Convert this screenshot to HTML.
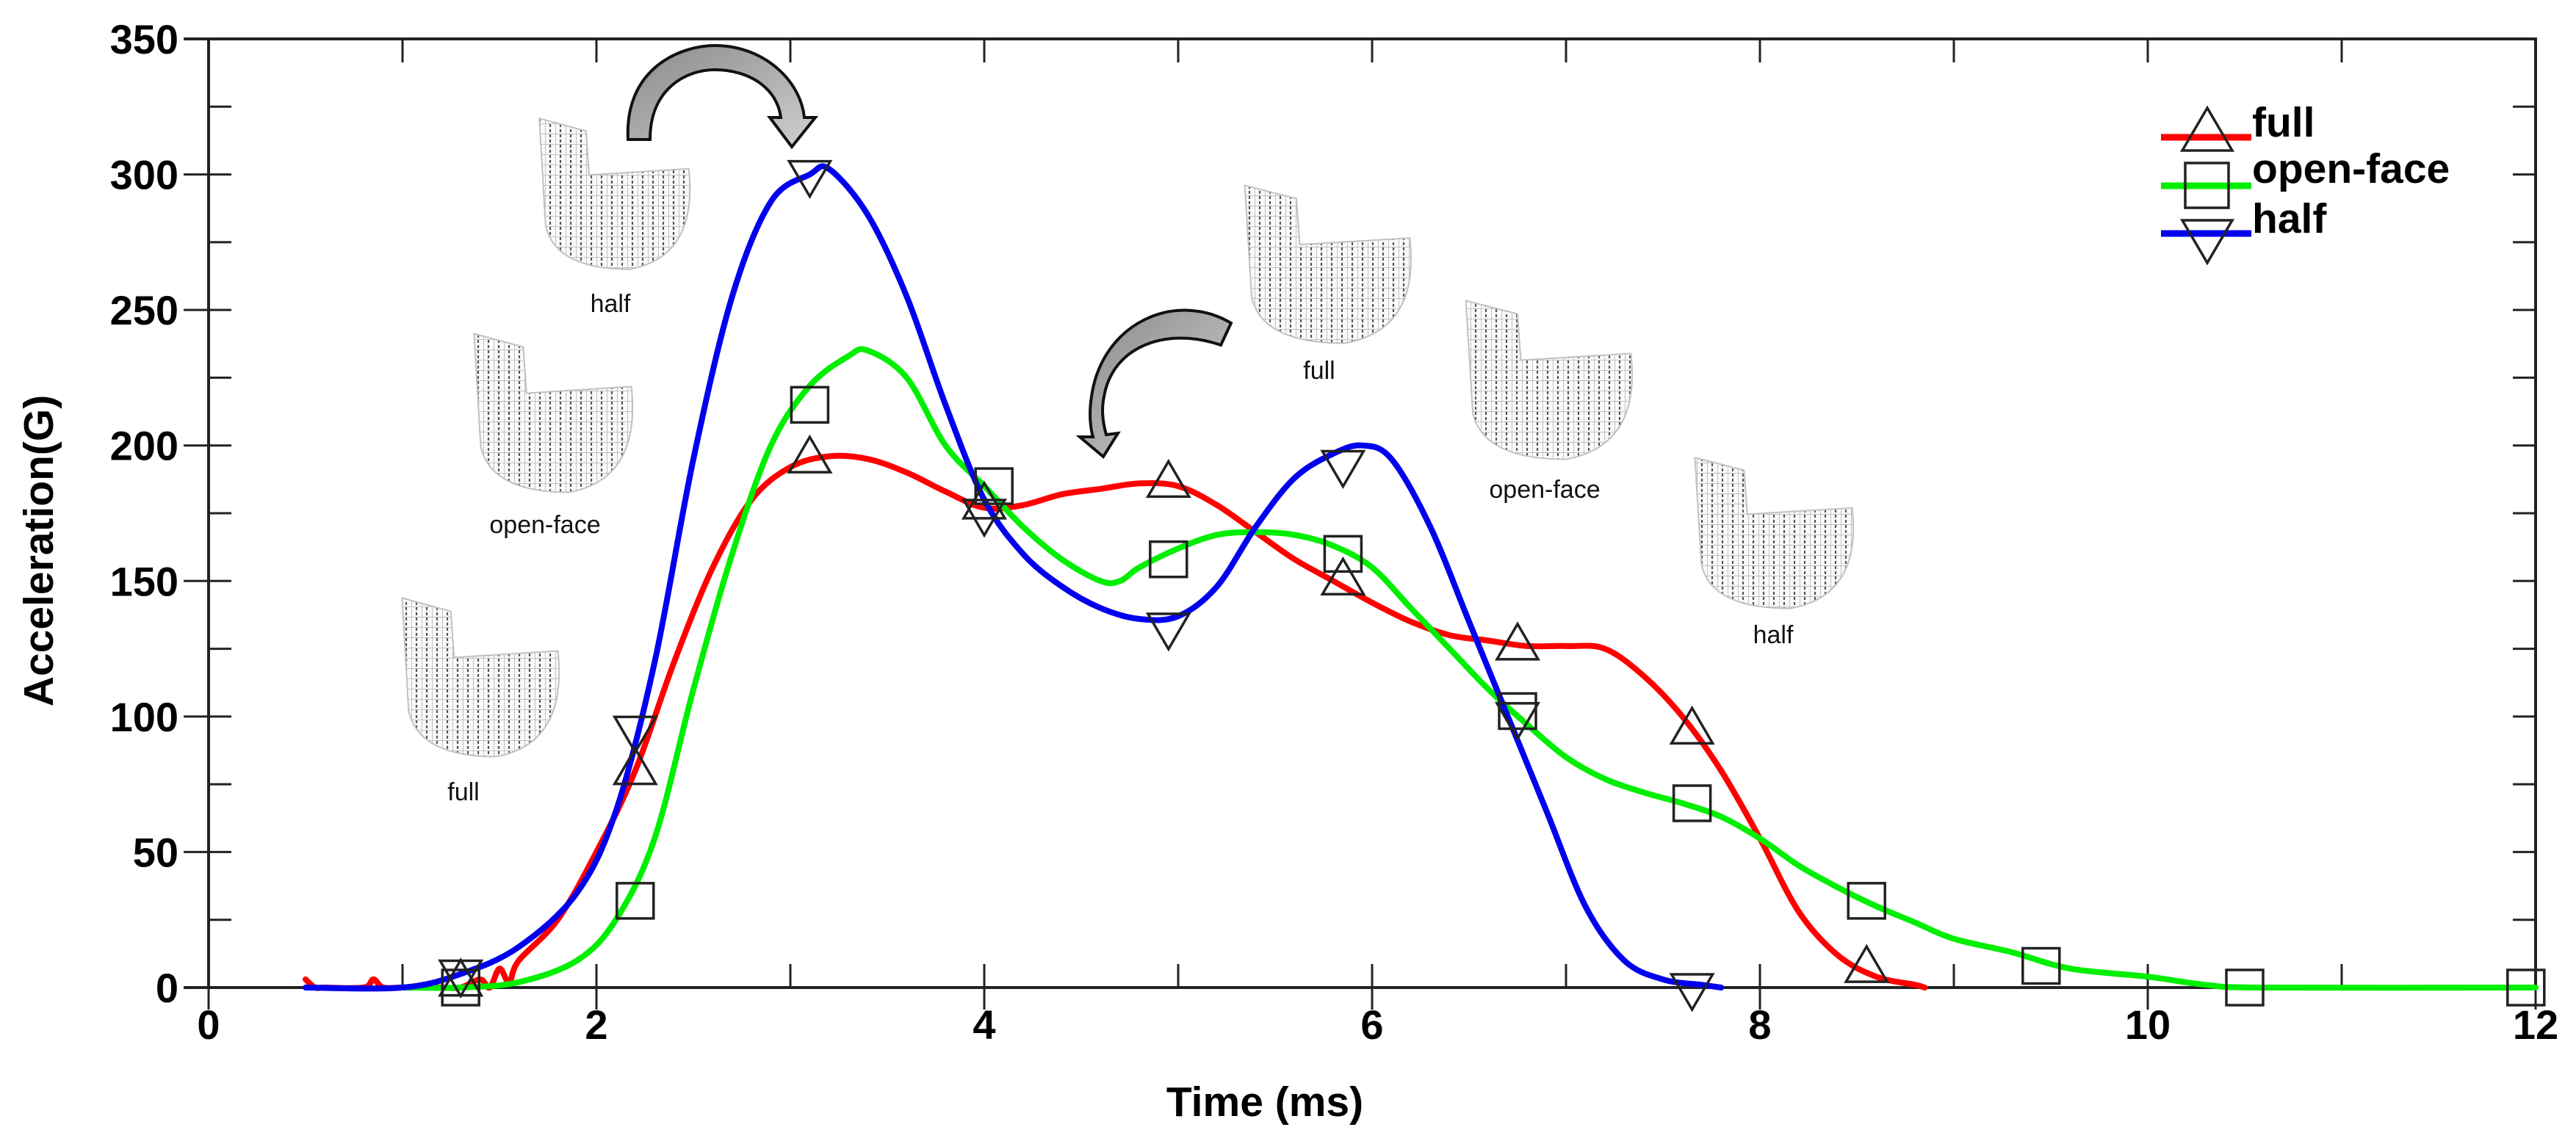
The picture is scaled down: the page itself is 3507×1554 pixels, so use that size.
<!DOCTYPE html>
<html><head><meta charset="utf-8"><title>Acceleration vs Time</title>
<style>html,body{margin:0;padding:0;background:#fff}svg{display:block}</style></head>
<body>
<svg id="chart" xmlns="http://www.w3.org/2000/svg" width="3507" height="1554" viewBox="0 0 3507 1554" font-family="Liberation Sans, Arial, sans-serif">
<defs>
  <pattern id="mesh" width="14" height="14" patternUnits="userSpaceOnUse">
    <rect width="14" height="14" fill="#fafafa"/>
    <path d="M0 0H14M0 0V14" stroke="#a8a8a8" stroke-width="1.5"/>
    <path d="M7 1V13" stroke="#444" stroke-width="2.2" stroke-dasharray="4 3"/>
  </pattern>
  <linearGradient id="arrowGrad" x1="0" y1="0" x2="1" y2="1">
    <stop offset="0" stop-color="#8a8a8a"/><stop offset="1" stop-color="#d0d0d0"/>
  </linearGradient>
</defs>
<g id="helmets"></g>
<g id="arrows">
  <path d="M855 190 C850 90 930 62 973 62 C1040 62 1090 110 1095 160 L1110 160 L1078 200 L1048 160 L1063 160 C1058 120 1020 95 973 95 C935 95 885 120 885 190 Z" fill="url(#arrowGrad)" stroke="#111" stroke-width="4"/>
  <path d="M1676 440 C1600 395 1500 440 1486 540 C1482 565 1485 585 1488 595 L1470 595 L1502 622 L1522 590 L1506 592 C1500 570 1500 555 1503 540 C1515 470 1590 445 1662 470 Z" fill="url(#arrowGrad)" stroke="#111" stroke-width="4"/>
</g>
<g id="axes"></g>
<g id="series"></g>
<g id="markers"></g>
<g id="legend">
  <g>
    <line x1="2942" y1="187" x2="3065" y2="187" stroke="#ff0000" stroke-width="9"/>
    <polygon points="3005,147 2971,205 3039,205" fill="none" stroke="#222" stroke-width="3.5"/>
    <text x="3066" y="186" font-size="57" font-weight="bold">full</text>
  </g>
  <g>
    <line x1="2942" y1="253" x2="3065" y2="253" stroke="#00ee00" stroke-width="9"/>
    <rect x="2975" y="222" width="59" height="61" fill="none" stroke="#222" stroke-width="3.5"/>
    <text x="3066" y="249" font-size="57" font-weight="bold">open-face</text>
  </g>
  <g>
    <line x1="2942" y1="318" x2="3065" y2="318" stroke="#0000ee" stroke-width="9"/>
    <polygon points="2971,300 3039,300 3005,358" fill="none" stroke="#222" stroke-width="3.5"/>
    <text x="3066" y="317" font-size="57" font-weight="bold">half</text>
  </g>
</g>
<text x="1722" y="1520" font-size="57" font-weight="bold" text-anchor="middle">Time (ms)</text>
<text transform="translate(72,750) rotate(-90)" font-size="57" font-weight="bold" text-anchor="middle">Acceleration(G)</text>
</svg>
<script>
const xTicks = [0, 2, 4, 6, 8, 10, 12];
const yTicks = [0, 50, 100, 150, 200, 250, 300, 350];
const fullT = [0.5,0.55,0.6,0.8,0.85,0.9,1.0,1.2,1.3,1.4,1.45,1.5,1.55,1.6,1.8,2.0,2.2,2.4,2.6,2.8,3.0,3.2,3.4,3.6,3.8,4.0,4.2,4.4,4.6,4.8,5.0,5.2,5.4,5.6,5.8,6.0,6.2,6.4,6.6,6.8,7.0,7.2,7.4,7.6,7.8,8.0,8.2,8.4,8.6,8.8,8.85];
const fullG = [3,0,0,0,3,0,0,0,0,3,0,7,2,10,25,50,80,120,155,180,192,196,195,190,183,177,178,182,184,186,185,178,168,158,150,142,135,130,128,126,126,125,115,100,80,55,28,12,4,1,0];
const openT = [1.0,1.3,1.6,1.9,2.1,2.3,2.5,2.7,2.9,3.1,3.3,3.4,3.6,3.8,4.0,4.2,4.4,4.6,4.7,4.8,5.0,5.2,5.4,5.6,5.8,6.0,6.2,6.4,6.6,6.8,7.0,7.2,7.4,7.6,7.8,8.0,8.2,8.4,8.6,8.8,9.0,9.3,9.6,10.0,10.3,10.6,12.0];
const openG = [0,0,2,10,25,55,110,160,200,222,233,235,225,200,185,170,158,150,150,155,162,167,168,167,163,155,140,125,110,97,85,77,72,68,63,55,45,37,30,24,18,13,7,4,1,0,0];
const halfT = [0.5,1.0,1.3,1.6,1.9,2.1,2.3,2.5,2.7,2.9,3.1,3.2,3.4,3.6,3.8,4.0,4.2,4.4,4.6,4.8,5.0,5.2,5.4,5.6,5.8,5.95,6.1,6.3,6.5,6.7,6.9,7.1,7.3,7.5,7.7,7.8];
const halfG = [0,0,5,15,35,65,120,195,255,290,300,302,285,255,215,180,160,148,140,136,137,148,170,188,197,200,195,170,135,100,65,30,10,3,1,0];
const fullMarkT = [1.3,2.2,3.1,4.0,4.95,5.85,6.75,7.65,8.55];
const fullMarkG = [2,80,195,178,186,150,126,95,7];
const openMarkT = [1.3,2.2,3.1,4.05,4.95,5.85,6.75,7.65,8.55,9.45,10.5,11.95];
const openMarkG = [0,32,215,185,158,160,102,68,32,8,0,0];
const halfMarkT = [1.3,2.2,3.1,4.0,4.95,5.85,6.75,7.65];
const halfMarkG = [5,95,300,175,133,193,100,0];

const X0 = 284, X1 = 3452, Y0 = 1345, Y1 = 53;
function xs(t){ return X0 + (t - 0) / 12 * (X1 - X0); }
function ys(g){ return Y0 - g / 350 * (Y0 - Y1); }
const NS = 'http://www.w3.org/2000/svg';
function mk(tag, attrs, parent){ const e = document.createElementNS(NS, tag); for (const k in attrs) e.setAttribute(k, attrs[k]); parent.appendChild(e); return e; }

// axes
const ax = document.getElementById('axes');
const frame = mk('path', {d:`M${X0} ${Y1}H${X1}V${Y0}M${X0} ${Y1}V${Y0}M${X0-34} ${Y0}H${X1}M${X0-34} ${Y1}H${X0}`, stroke:'#222', 'stroke-width':4, fill:'none'}, ax);


for (let v = 0; v <= 12; v += 1) {
  const x = xs(v), major = v % 2 === 0;
  mk('line', {x1:x, y1:Y0 - 32, x2:x, y2: major ? Y0 + 30 : Y0, stroke:'#222', 'stroke-width':3}, ax);
  mk('line', {x1:x, y1:Y1, x2:x, y2:Y1 + 32, stroke:'#222', 'stroke-width':3}, ax);
}
for (let v = 0; v <= 350; v += 25) {
  const y = ys(v), major = v % 50 === 0;
  mk('line', {x1: major ? X0 - 34 : X0, y1:y, x2:X0 + 31, y2:y, stroke:'#222', 'stroke-width':3}, ax);
  mk('line', {x1:X1 - 31, y1:y, x2:X1, y2:y, stroke:'#222', 'stroke-width':3}, ax);
}
xTicks.forEach(v => {
  const t = mk('text', {x: xs(v), y: 1415, 'font-size':56, 'font-weight':'bold', 'text-anchor':'middle'}, ax);
  t.textContent = v;
  
  
});
yTicks.forEach(v => {
  const t = mk('text', {x: 243, y: ys(v) + 20, 'font-size':56, 'font-weight':'bold', 'text-anchor':'end'}, ax);
  t.textContent = v;
  
  
});

// series (smoothed Catmull-Rom through data points)
const sg = document.getElementById('series');
function smoothPath(T, G){
  const P = T.map((t,i)=>[xs(t), ys(G[i])]);
  let d = `M${P[0][0].toFixed(1)} ${P[0][1].toFixed(1)}`;
  for (let i = 0; i < P.length - 1; i++) {
    const p0 = P[i-1] || P[i], p1 = P[i], p2 = P[i+1], p3 = P[i+2] || P[i+1];
    const c1 = [p1[0] + (p2[0]-p0[0])/6, p1[1] + (p2[1]-p0[1])/6];
    const c2 = [p2[0] - (p3[0]-p1[0])/6, p2[1] - (p3[1]-p1[1])/6];
    d += ` C${c1[0].toFixed(1)} ${c1[1].toFixed(1)} ${c2[0].toFixed(1)} ${c2[1].toFixed(1)} ${p2[0].toFixed(1)} ${p2[1].toFixed(1)}`;
  }
  return d;
}
function line(T, G, color, name){
  const p = mk('path', {d: smoothPath(T, G), fill:'none', stroke:color, 'stroke-width':8, 'stroke-linejoin':'round', 'stroke-linecap':'round'}, sg);
  
  
}
line(fullT, fullG, '#ff0000', 'line-full');
line(openT, openG, '#00ee00', 'line-open-face');
line(halfT, halfG, '#0000ee', 'line-half');

// markers
const mg = document.getElementById('markers');
fullMarkT.forEach((t,i) => {
  const x = xs(t), y = ys(fullMarkG[i]);
  const m = mk('polygon', {points:`${x},${y-30} ${x-28},${y+18} ${x+28},${y+18}`, fill:'none', stroke:'#222', 'stroke-width':3.5}, mg);
  
  
});
openMarkT.forEach((t,i) => {
  const x = xs(t), y = ys(openMarkG[i]);
  const m = mk('rect', {x:x-25, y:y-24, width:50, height:48, fill:'none', stroke:'#222', 'stroke-width':3.5}, mg);
  
  
});
halfMarkT.forEach((t,i) => {
  const x = xs(t), y = ys(halfMarkG[i]);
  const m = mk('polygon', {points:`${x-28},${y-18} ${x+28},${y-18} ${x},${y+30}`, fill:'none', stroke:'#222', 'stroke-width':3.5}, mg);
  
  
});

// helmet illustrations
const hg = document.getElementById('helmets');
const helmets = [
  {x:730,y:157,w:212,h:214,label:'half',lx:831,ly:425},
  {x:641,y:450,w:223,h:225,label:'open-face',lx:742,ly:726},
  {x:543,y:810,w:221,h:225,label:'full',lx:631,ly:1090},
  {x:1690,y:248,w:234,h:224,label:'full',lx:1796,ly:516},
  {x:1991,y:405,w:234,h:225,label:'open-face',lx:2103,ly:678},
  {x:2303,y:619,w:223,h:214,label:'half',lx:2414,ly:876}
];
helmets.forEach(h => {
  const g = mk('g', {}, hg);
  
  
  const X = f => h.x + f * h.w, Y = f => h.y + f * h.h;
  mk('path', {d:`M${X(0.02)} ${Y(0.02)} L${X(0.32)} ${Y(0.1)} L${X(0.34)} ${Y(0.38)} L${X(0.98)} ${Y(0.34)} Q${X(1.04)} ${Y(0.9)} ${X(0.6)} ${Y(0.98)} Q${X(0.12)} ${Y(0.98)} ${X(0.06)} ${Y(0.7)} Z`, fill:'url(#mesh)', stroke:'#bbb', 'stroke-width':2, opacity:0.9}, g);
  const t = mk('text', {x:h.lx, y:h.ly, 'font-size':34, 'text-anchor':'middle', fill:'#111'}, g);
  t.textContent = h.label;
});
</script>
</body></html>
